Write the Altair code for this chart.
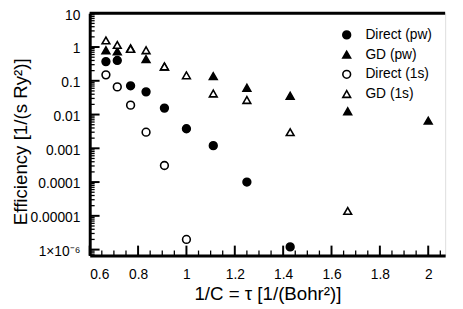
import altair as alt
import pandas as pd
import math

# ---- data ----
series_names = ["Direct (pw)", "GD (pw)", "Direct (1s)", "GD (1s)"]

direct_pw_x = [0.667, 0.714, 0.769, 0.833, 0.909, 1.0, 1.111, 1.25, 1.429]
direct_pw_y = [0.37, 0.40, 0.071, 0.047, 0.0155, 0.0038, 0.0012, 1.0e-4, 1.2e-6]

gd_pw_x = [0.667, 0.714, 0.769, 0.833, 0.909, 1.111, 1.25, 1.429, 1.667, 2.0]
gd_pw_y = [0.80, 0.74, 0.92, 0.44, 0.265, 0.138, 0.062, 0.036, 0.0125, 0.0066]

direct_1s_x = [0.667, 0.714, 0.769, 0.833, 0.909, 1.0]
direct_1s_y = [0.15, 0.066, 0.019, 0.003, 0.00031, 2.0e-6]

gd_1s_x = [0.667, 0.714, 0.769, 0.833, 0.909, 1.0, 1.111, 1.25, 1.429, 1.667]
gd_1s_y = [1.57, 1.15, 0.88, 0.80, 0.265, 0.145, 0.042, 0.027, 0.003, 1.4e-5]

x_major = [0.6, 0.8, 1.0, 1.2, 1.4, 1.6, 1.8, 2.0]
x_minor = [0.65, 0.7, 0.75, 0.85, 0.9, 0.95, 1.05, 1.1, 1.15, 1.25, 1.3, 1.35,
           1.45, 1.5, 1.55, 1.65, 1.7, 1.75, 1.85, 1.9, 1.95, 2.05]
y_major = [10, 1, 0.1, 0.01, 0.001, 0.0001, 0.00001, 0.000001]
y_major_labels = ["10", "1", "0.1", "0.01", "0.001", "0.0001", "0.00001", "1×10⁻⁶"]
x_domain = [0.6, 2.07]
y_domain = [6.7e-7, 10]

# ---- tables ----
rows = []
for name, xs, ys in [
    ("Direct (pw)", direct_pw_x, direct_pw_y),
    ("GD (pw)", gd_pw_x, gd_pw_y),
    ("Direct (1s)", direct_1s_x, direct_1s_y),
    ("GD (1s)", gd_1s_x, gd_1s_y),
]:
    for xv, yv in zip(xs, ys):
        rows.append({"x": xv, "y": yv, "series": name, "order": series_names.index(name)})
pts = pd.DataFrame(rows)

y_minor = []
for dec in [1e-7, 1e-6, 1e-5, 1e-4, 1e-3, 1e-2, 1e-1, 1]:
    for m in range(2, 10):
        v = m * dec
        if y_domain[0] <= v <= y_domain[1]:
            y_minor.append(v)

W, H = 361, 246
font = "Liberation Sans"

xscale = alt.Scale(domain=x_domain, nice=False, zero=False)
yscale = alt.Scale(type="log", domain=y_domain, nice=False)

expr = "''"
for v, lab in reversed(list(zip(y_major, y_major_labels))):
    expr = f"abs(log(datum.value)/log(10) - ({math.log10(v):.6f})) < 0.01 ? '{lab}' : {expr}"

xaxis = alt.Axis(values=x_major, format="~g", ticks=False, tickSize=0, grid=False,
                 labelPadding=12, labelFontSize=14, labelFont=font, labelColor="black",
                 title="1/C = τ [1/(Bohr²)]", titleFont=font, titleFontSize=19,
                 titleFontWeight="normal", titleColor="black", titlePadding=4,
                 domainColor="black", domainWidth=3)
yaxis = alt.Axis(values=y_major, labelExpr=expr, ticks=False, tickSize=0, grid=False,
                 labelPadding=10, labelFontSize=14, labelFont=font, labelColor="black",
                 labelBaseline="middle", labelOffset=2,
                 title="Efficiency [1/(s Ry²)]", titleFont=font, titleFontSize=19,
                 titleFontWeight="normal", titleColor="black",
                 titleX=-70, titleY=130, titleBaseline="middle",
                 domainColor="black", domainWidth=3)

leg = alt.Legend(title=None, orient="none", legendX=254, legendY=15,
                 labelFontSize=14, labelFont=font, labelColor="black",
                 labelOffset=12, rowPadding=5, padding=0,
                 symbolSize=62, symbolStrokeWidth=1.6)
color_scale_dom = series_names

points = alt.Chart(pts).mark_point(opacity=1, strokeWidth=1.6, size=62).encode(
    x=alt.X("x:Q", scale=xscale, axis=xaxis),
    y=alt.Y("y:Q", scale=yscale, axis=yaxis),
    shape=alt.Shape("series:N", scale=alt.Scale(domain=color_scale_dom,
                    range=["circle", "triangle-up", "circle", "triangle-up"]), legend=leg),
    fill=alt.Fill("series:N", scale=alt.Scale(domain=color_scale_dom,
                  range=["black", "black", "white", "white"]), legend=leg),
    stroke=alt.Stroke("series:N", scale=alt.Scale(domain=color_scale_dom,
                      range=["black", "black", "black", "black"]), legend=leg),
    order=alt.Order("order:Q"),
)

xt_major = alt.Chart(pd.DataFrame({"x": x_major})).mark_rule(color="black", strokeWidth=2).encode(
    x=alt.X("x:Q", scale=xscale, axis=xaxis), y=alt.value(H), y2=alt.value(H - 10))
xt_minor = alt.Chart(pd.DataFrame({"x": x_minor})).mark_rule(color="black", strokeWidth=1.3).encode(
    x=alt.X("x:Q", scale=xscale, axis=xaxis), y=alt.value(H), y2=alt.value(H - 5))
yt_major = alt.Chart(pd.DataFrame({"y": y_major})).mark_rule(color="black", strokeWidth=2).encode(
    y=alt.Y("y:Q", scale=yscale, axis=yaxis), x=alt.value(0), x2=alt.value(10))
yt_minor = alt.Chart(pd.DataFrame({"y": y_minor})).mark_rule(color="black", strokeWidth=1.3).encode(
    y=alt.Y("y:Q", scale=yscale, axis=yaxis), x=alt.value(0), x2=alt.value(5))
top_line = alt.Chart(pd.DataFrame({"y": [y_domain[1]]})).mark_rule(color="black", strokeWidth=3).encode(
    y=alt.Y("y:Q", scale=yscale, axis=yaxis), x=alt.value(0), x2=alt.value(W))

chart = alt.layer(points, xt_major, xt_minor, yt_major, yt_minor, top_line).properties(
    width=W, height=H,
    autosize=alt.AutoSizeParams(type="none"),
    padding={"left": 83, "top": 3, "right": 10, "bottom": 50},
).configure_view(stroke="black", strokeWidth=1.8).configure(background="white")

chart.save("out.html", embed_options={"renderer": "svg", "actions": False})
